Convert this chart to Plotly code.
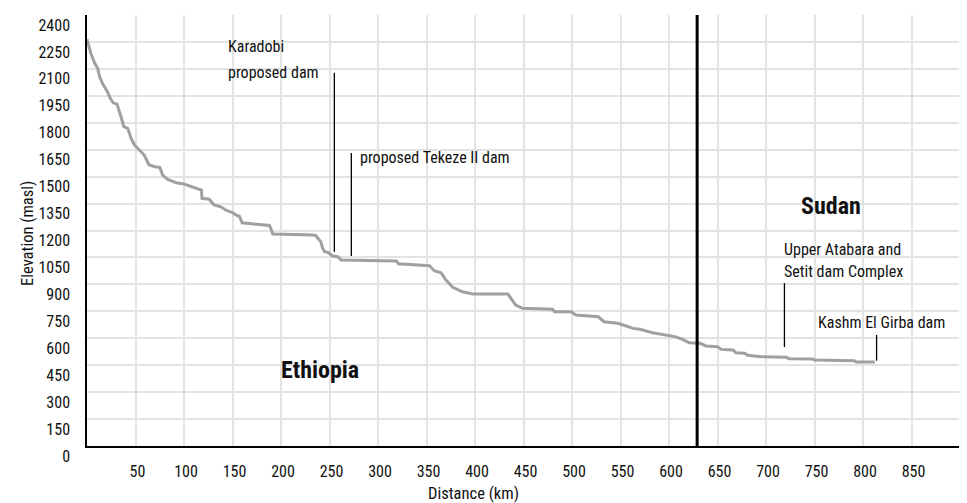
import plotly.graph_objects as go

# River profile: distance (km) vs elevation (masl)
distance_km = [0, 4, 8, 11, 13, 16, 21, 24, 27, 31, 34.5, 38, 42, 45.5, 49, 54, 59, 64, 70, 75,
               78, 83, 92, 100, 111, 118, 118.5, 126, 131, 138, 143, 150, 155.5, 157, 160, 183,
               188, 190, 191.5, 233, 236, 238, 241, 243, 245, 249, 253, 258.5, 262, 319, 321,
               353, 358, 365, 370, 377, 387, 398, 434, 437, 442, 449, 480, 482, 499, 504, 527,
               533, 547, 556, 563, 570, 583, 606, 614, 621, 632, 638, 650, 654, 666, 669, 678,
               681, 690, 695, 721, 724, 748, 750, 791, 793, 812]
elevation_m = [2265, 2186, 2131, 2103, 2056, 2019, 1973, 1936, 1911, 1904, 1843, 1778, 1769, 1713,
               1676, 1648, 1620, 1565, 1555, 1552, 1509, 1485, 1466, 1459, 1440, 1425, 1379, 1374,
               1342, 1332, 1314, 1299, 1281, 1281, 1243, 1232, 1228, 1205, 1180, 1175, 1172, 1157,
               1138, 1100, 1082, 1077, 1058, 1054, 1036, 1030, 1015, 1004, 976, 965, 924, 884,
               859, 846, 846, 822, 785, 767, 761, 748, 748, 729, 720, 692, 683, 668, 655, 650,
               631, 609, 594, 575, 572, 557, 553, 538, 535, 519, 516, 505, 501, 497, 494, 486,
               484, 479, 475, 468, 468]

x_ticks = [50, 100, 150, 200, 250, 300, 350, 400, 450, 500, 550, 600, 650, 700, 750, 800, 850, 900]
x_tick_labels = ["50", "100", "150", "200", "250", "300", "350", "400", "450", "500", "550",
                 "600", "650", "700", "750", "800", "850", ""]
y_ticks = [0, 150, 300, 450, 600, 750, 900, 1050, 1200, 1350, 1500, 1650, 1800, 1950, 2100, 2250, 2400]

border_km = 629

# Dam markers: position (km), marker bottom and top (masl)
dam_km = [255, 272.5, 719, 814]
dam_bottom = [1082, 1058, 551, 475]
dam_top = [2078, 1631, 907, 618]

FONT = "Roboto Condensed, DejaVu Sans Condensed, Liberation Sans Narrow, Roboto, sans-serif"

fig = go.Figure()
fig.add_trace(go.Scatter(x=distance_km, y=elevation_m, mode="lines",
                         line=dict(color="#a0a0a0", width=3), hoverinfo="skip",
                         showlegend=False))

# Border line
fig.add_shape(type="line", x0=border_km, x1=border_km, y0=0, y1=2400, xref="x", yref="y",
              line=dict(color="black", width=3))

for km, b, t in zip(dam_km, dam_bottom, dam_top):
    fig.add_shape(type="line", x0=km, x1=km, y0=b, y1=t, xref="x", yref="y",
                  line=dict(color="black", width=1.3))

def txt(x, y, s, size=16, bold=False):
    fig.add_annotation(x=x, y=y, xref="x", yref="y", text=("<b>%s</b>" % s) if bold else s,
                       showarrow=False, xanchor="left", yanchor="middle",
                       font=dict(family=FONT, size=size, color="#111"))

txt(143, 2223, "Karadobi")
txt(143, 2082, "proposed dam")
txt(279.5, 1609, "proposed Tekeze II dam")
txt(716.5, 1097, "Upper Atabara and")
txt(716.5, 969, "Setit dam Complex")
txt(751.5, 686, "Kashm El Girba dam")
txt(733.5, 1336, "Sudan", size=24, bold=True)
txt(198, 423, "Ethiopia", size=24, bold=True)

# Axis titles
fig.add_annotation(xref="paper", yref="paper", x=0, y=0.492, xshift=-59, text="Elevation (masl)",
                   textangle=-90, showarrow=False, xanchor="center", yanchor="middle",
                   font=dict(family=FONT, size=16.5, color="#111"))
fig.add_annotation(xref="paper", yref="paper", x=0.443, y=0, yshift=-47, text="Distance (km)",
                   showarrow=False, xanchor="center", yanchor="middle",
                   font=dict(family=FONT, size=16.5, color="#111"))

fig.update_xaxes(range=[0, 900], tickvals=x_ticks, ticktext=x_tick_labels,
                 showgrid=True, gridcolor="#e3e3e3", gridwidth=2,
                 showline=True, linecolor="black", linewidth=1.5, zeroline=False,
                 ticks="", ticklabelstandoff=10, ticklabelshift=2, automargin=False,
                 tickfont=dict(family=FONT, size=16, color="#111"))
fig.update_yaxes(range=[0, 2400], tickvals=y_ticks,
                 showgrid=True, gridcolor="#e3e3e3", gridwidth=2,
                 showline=True, linecolor="black", linewidth=1.5, zeroline=False,
                 ticks="", ticklabelstandoff=12, ticklabelshift=10, ticklabeloverflow="allow",
                 automargin=False,
                 tickfont=dict(family=FONT, size=16, color="#111"))

fig.update_layout(width=959, height=495, margin=dict(l=79, r=7, t=7, b=57),
                  plot_bgcolor="white", paper_bgcolor="white",
                  font=dict(family=FONT, color="#111"))

fig.write_html("out.html")
